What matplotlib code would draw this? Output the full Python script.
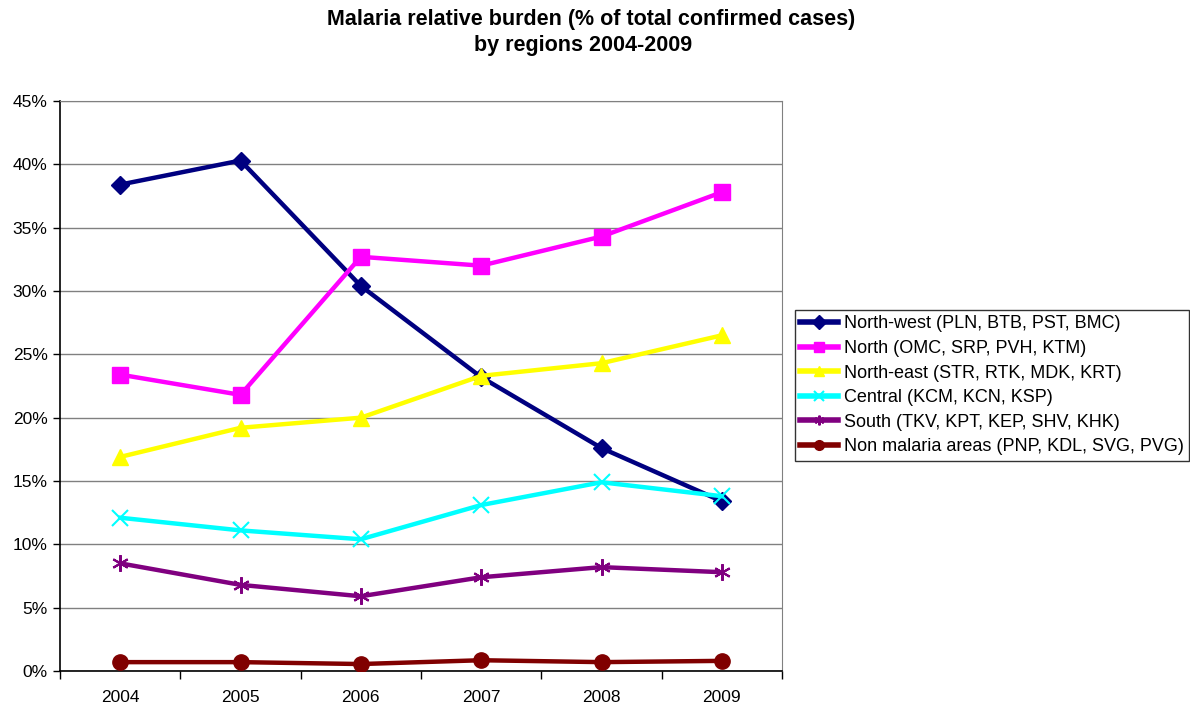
import matplotlib
matplotlib.use("Agg")
import matplotlib.pyplot as plt
from matplotlib.ticker import FixedLocator, PercentFormatter

plt.rcParams['font.family'] = ['Liberation Sans', 'DejaVu Sans']

years = ['2004', '2005', '2006', '2007', '2008', '2009']

north_west = [38.4, 40.3, 30.4, 23.2, 17.6, 13.4]
north = [23.4, 21.8, 32.7, 32.0, 34.3, 37.8]
north_east = [16.9, 19.2, 20.0, 23.3, 24.3, 26.5]
central = [12.1, 11.1, 10.4, 13.1, 14.9, 13.8]
south = [8.5, 6.8, 5.9, 7.4, 8.2, 7.8]
non_malaria = [0.7, 0.7, 0.55, 0.85, 0.7, 0.8]

labels = [
    'North-west (PLN, BTB, PST, BMC)',
    'North (OMC, SRP, PVH, KTM)',
    'North-east (STR, RTK, MDK, KRT)',
    'Central (KCM, KCN, KSP)',
    'South (TKV, KPT, KEP, SHV, KHK)',
    'Non malaria areas (PNP, KDL, SVG, PVG)',
]

series = [north_west, north, north_east, central, south, non_malaria]
colors = ['#000080', '#FF00FF', '#FFFF00', '#00FFFF', '#800080', '#800000']
markers = ['D', 's', '^', 'x', (6, 2, 0), 'o']
msizes = [9, 12, 12, 11, 12, 11]

W, H = 1190, 704
fig = plt.figure(figsize=(W / 100, H / 100), dpi=100)
ax = fig.add_axes([60 / W, 33 / H, 722 / W, 570 / H])

x = list(range(len(years)))
handles = []
for vals, c, m, ms, lab in zip(series, colors, markers, msizes, labels):
    mew = 1.5 if m in ('x', (6, 2, 0)) else 1
    h, = ax.plot(x, vals, color=c, lw=3.2, marker=m, markersize=ms,
                 markerfacecolor=c, markeredgecolor=c, markeredgewidth=mew,
                 label=lab, solid_joinstyle='round', zorder=3)
    handles.append(h)

ax.set_xlim(-0.5, len(years) - 0.5)
ax.set_ylim(0, 45)
ax.yaxis.set_major_locator(FixedLocator(range(0, 46, 5)))
ax.yaxis.set_major_formatter(PercentFormatter(decimals=0))
ax.grid(axis='y', color='#808080', lw=1)
ax.set_axisbelow(True)

# category labels centred, tick marks between categories
ax.set_xticks(x)
ax.set_xticklabels(years)
ax.tick_params(axis='x', length=0, pad=14, labelsize=12.5)
ax.set_xticks([i + 0.5 for i in range(-1, len(years))], minor=True)
ax.tick_params(axis='x', which='minor', length=6, width=1, direction='out')
ax.tick_params(axis='y', length=5, width=1, direction='out', labelsize=12.5, pad=4)

for side in ('top', 'right'):
    ax.spines[side].set_color('#808080')
for side in ('left', 'bottom'):
    ax.spines[side].set_color('black')
    ax.spines[side].set_linewidth(1.2)

fig.text(591 / W, 1 - 19 / H, 'Malaria relative burden (% of total confirmed cases)',
         ha='center', va='center', fontsize=15.5, fontweight='bold')
fig.text(583 / W, 1 - 45 / H, 'by regions 2004-2009',
         ha='center', va='center', fontsize=15.5, fontweight='bold')

leg = fig.legend(handles=handles, loc='upper left',
                 bbox_to_anchor=(795 / W, 1 - 310 / H),
                 fontsize=13, frameon=True, fancybox=False, edgecolor='black',
                 handlelength=2.1, handletextpad=0.3, labelspacing=0.42,
                 borderpad=0.3, borderaxespad=0)
leg.get_frame().set_linewidth(1)
for lh in leg.get_lines():
    lh.set_markersize(7)
    lh.set_linewidth(4)

fig.savefig('out.png', dpi=100)
